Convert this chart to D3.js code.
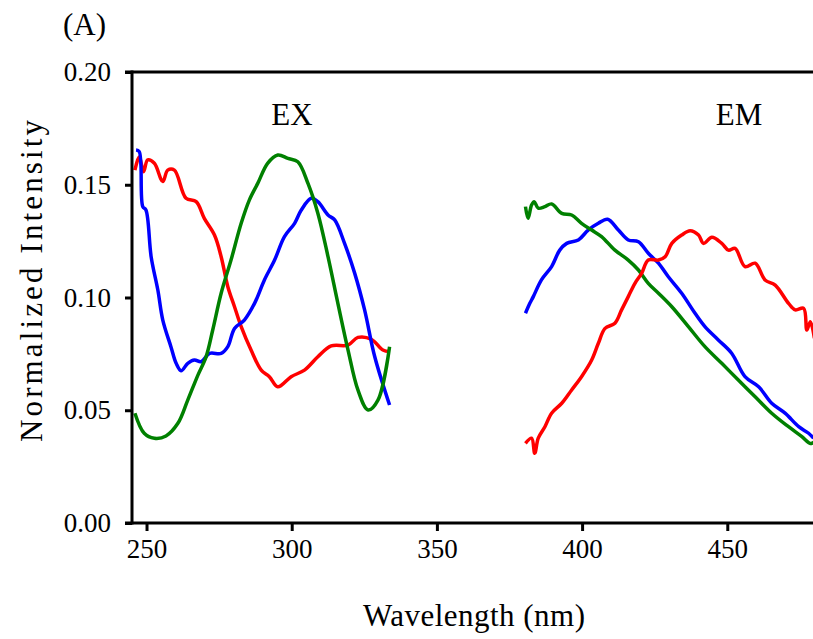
<!DOCTYPE html>
<html>
<head>
<meta charset="utf-8">
<script src="https://cdn.jsdelivr.net/npm/d3@7"></script>
<style>
  body { margin: 0; background: #fff; }
  text { font-family: "Liberation Serif", "Times New Roman", serif; fill: #000; }
</style>
</head>
<body>
<div id="chart"></div>
<script>
// Wavelengths (nm) and normalized intensities
const exBlueX = [246.4, 247.5, 248.7, 249.8, 251.6, 253.9, 255.6, 258.4, 260.2, 261.9, 264.2, 266.5, 268.8, 271.7, 275.7, 278, 280.3, 283.7, 287.2, 290.6, 294.1, 297.5, 301, 303.3, 306.7, 309, 312.5, 314.8, 318.2, 321.7, 325.1, 328.6, 333.7];
const exBlueY = [0.1654, 0.1647, 0.1403, 0.1388, 0.118, 0.1033, 0.090, 0.0782, 0.0708, 0.0675, 0.0708, 0.0723, 0.0715, 0.0752, 0.0752, 0.0782, 0.0863, 0.090, 0.0974, 0.1078, 0.1166, 0.127, 0.1329, 0.1388, 0.144, 0.1425, 0.1366, 0.1344, 0.124, 0.1107, 0.0945, 0.0737, 0.0523];

const exRedX = [246, 247.5, 249, 250.4, 252.7, 255.6, 257.3, 259.6, 263.6, 267.1, 269.9, 273.4, 275.7, 278, 280.3, 282.6, 286, 289.5, 292.3, 295.2, 299.8, 304.4, 309, 313.6, 319.4, 322.8, 327.4, 331.4, 333.7];
const exRedY = [0.1565, 0.1624, 0.1558, 0.161, 0.1595, 0.1514, 0.1565, 0.1565, 0.144, 0.1425, 0.1351, 0.1277, 0.1181, 0.1048, 0.0959, 0.0871, 0.0767, 0.0678, 0.0649, 0.0604, 0.0649, 0.0678, 0.0737, 0.0785, 0.0789, 0.0823, 0.0815, 0.0767, 0.076];

const exGreenX = [246, 249.2, 252.7, 256.7, 260.8, 264.2, 267.7, 270.5, 272.8, 275.7, 279.1, 282.6, 285.4, 288.3, 291.7, 295.2, 298.7, 302.1, 305.6, 309, 312.5, 315.9, 319.4, 322.8, 326.3, 329.7, 333.7];
const exGreenY = [0.0487, 0.0398, 0.0376, 0.0386, 0.0442, 0.0545, 0.0656, 0.0737, 0.0856, 0.1019, 0.1166, 0.1329, 0.1432, 0.1506, 0.1595, 0.1632, 0.1617, 0.1602, 0.1506, 0.1374, 0.1181, 0.0974, 0.0767, 0.059, 0.0501, 0.0545, 0.0782];

const emBlueX = [380.5, 382, 383.2, 386, 389.5, 392.3, 394.7, 398.7, 402.1, 405.6, 408.8, 412.5, 415.9, 419.4, 422.8, 426.3, 429.7, 434.3, 438.9, 442.3, 446.9, 451.5, 456.1, 460.8, 465.3, 469.9, 474.6, 478, 479.7];
const emBlueY = [0.093, 0.0974, 0.1004, 0.1078, 0.1137, 0.121, 0.124, 0.1255, 0.1299, 0.1329, 0.1347, 0.1299, 0.1255, 0.1247, 0.1196, 0.1152, 0.1092, 0.1019, 0.093, 0.0871, 0.0812, 0.0753, 0.0649, 0.0604, 0.0531, 0.0487, 0.0427, 0.0398, 0.0376];

const emGreenX = [380.5, 381.4, 382.6, 383.5, 384.9, 387.2, 389.5, 393, 396.4, 399.8, 403.3, 406.7, 411.3, 415.9, 419.4, 422.8, 426.3, 430.9, 436.6, 442.3, 448.1, 453.8, 459.6, 465.3, 471.1, 475.7, 478.6, 480];
const emGreenY = [0.1403, 0.1351, 0.141, 0.1425, 0.1396, 0.1403, 0.1415, 0.1373, 0.1366, 0.1329, 0.1299, 0.127, 0.121, 0.1166, 0.1122, 0.1063, 0.1019, 0.0959, 0.0871, 0.0782, 0.0708, 0.0634, 0.056, 0.0487, 0.0427, 0.0383, 0.0353, 0.036];

const emRedX = [380.5, 382.6, 383.7, 384.9, 387.2, 389.5, 393, 396.4, 399.8, 403.3, 405.6, 407.9, 411.3, 413.6, 415.9, 418.2, 420.5, 422.8, 426.3, 428.6, 430.9, 434.3, 437.2, 440.1, 441.8, 444.7, 448.1, 450.4, 452.7, 456.1, 459.6, 463, 466.5, 471.1, 473.4, 476.3, 477.4, 478.6, 480];
const emRedY = [0.0353, 0.0376, 0.0309, 0.0376, 0.0427, 0.0487, 0.0531, 0.059, 0.0649, 0.0723, 0.0797, 0.0863, 0.0886, 0.0945, 0.1004, 0.1063, 0.1107, 0.1166, 0.1166, 0.1181, 0.124, 0.1277, 0.1296, 0.1277, 0.124, 0.1267, 0.124, 0.121, 0.1218, 0.1137, 0.1152, 0.1078, 0.1055, 0.0974, 0.0945, 0.0952, 0.0856, 0.0893, 0.0819];

const xTicks = [250, 300, 350, 400, 450];
const yTicks = [0.00, 0.05, 0.10, 0.15, 0.20];

const series = [
    { x: exRedX, y: exRedY, color: "#ff0000" },
    { x: exBlueX, y: exBlueY, color: "#0000ff" },
    { x: exGreenX, y: exGreenY, color: "#008000" },
    { x: emBlueX, y: emBlueY, color: "#0000ff" },
    { x: emGreenX, y: emGreenY, color: "#008000" },
    { x: emRedX, y: emRedY, color: "#ff0000" }
];

const W = 813, H = 639;
const svg = d3.select("#chart").append("svg")
    .attr("width", W)
    .attr("height", H);

// Scales
const xScale = d3.scaleLinear().domain([245, 480]).range([132, 814.4]);
const yScale = d3.scaleLinear().domain([0, 0.20]).range([523, 72]);

// Lines (catmull-rom to round off the hand-read points a bit)
const line = d3.line()
    .curve(d3.curveCatmullRom.alpha(0.5))
    .x(d => xScale(d[0]))
    .y(d => yScale(d[1]));

series.forEach(s => {
    svg.append("path")
        .datum(s.x.map((v, i) => [v, s.y[i]]))
        .attr("fill", "none")
        .attr("stroke", s.color)
        .attr("stroke-width", 3.5)
        .attr("stroke-linejoin", "round")
        .attr("d", line);
});

// Axes
const xAxis = svg.append("g")
    .attr("transform", `translate(0,${yScale(0)})`)
    .call(d3.axisBottom(xScale).tickValues(xTicks).tickSize(8).tickPadding(8).tickFormat(d3.format("d")));

const yAxis = svg.append("g")
    .attr("transform", `translate(${xScale(245)},0)`)
    .call(d3.axisLeft(yScale).tickValues(yTicks).tickSize(7).tickPadding(14).tickFormat(d3.format(".2f")));

[xAxis, yAxis].forEach(a => {
    a.select(".domain").remove();
    a.selectAll(".tick line").attr("stroke", "#000").attr("stroke-width", 3);
    a.selectAll(".tick text")
        .style("font-family", "'Liberation Serif', serif")
        .style("font-size", "27px")
        .attr("fill", "#000");
});
xAxis.selectAll(".tick text").attr("dy", "0.71em");

// Frame lines: left, bottom, top
svg.append("line")
    .attr("x1", xScale(245)).attr("x2", xScale(245))
    .attr("y1", yScale(0.2) - 1.5).attr("y2", yScale(0) + 1.5)
    .attr("stroke", "#000").attr("stroke-width", 3);
svg.append("line")
    .attr("x1", xScale(245) - 7).attr("x2", W)
    .attr("y1", yScale(0)).attr("y2", yScale(0))
    .attr("stroke", "#000").attr("stroke-width", 3);
svg.append("line")
    .attr("x1", xScale(245) - 7).attr("x2", W)
    .attr("y1", yScale(0.2)).attr("y2", yScale(0.2))
    .attr("stroke", "#000").attr("stroke-width", 3);

// Labels
svg.append("text")
    .attr("x", 63).attr("y", 35)
    .style("font-size", "31px")
    .text("(A)");

svg.append("text")
    .attr("x", 292).attr("y", 125)
    .attr("text-anchor", "middle")
    .style("font-size", "31px")
    .text("EX");

svg.append("text")
    .attr("x", 739).attr("y", 125)
    .attr("text-anchor", "middle")
    .style("font-size", "31px")
    .text("EM");

svg.append("text")
    .attr("x", 474).attr("y", 626)
    .attr("text-anchor", "middle")
    .style("font-size", "31px")
    .attr("textLength", 222)
    .attr("lengthAdjust", "spacing")
    .text("Wavelength (nm)");

svg.append("text")
    .attr("transform", "translate(42,281) rotate(-90)")
    .attr("text-anchor", "middle")
    .style("font-size", "31px")
    .attr("textLength", 322)
    .attr("lengthAdjust", "spacing")
    .text("Normalized Intensity");
</script>
</body>
</html>
